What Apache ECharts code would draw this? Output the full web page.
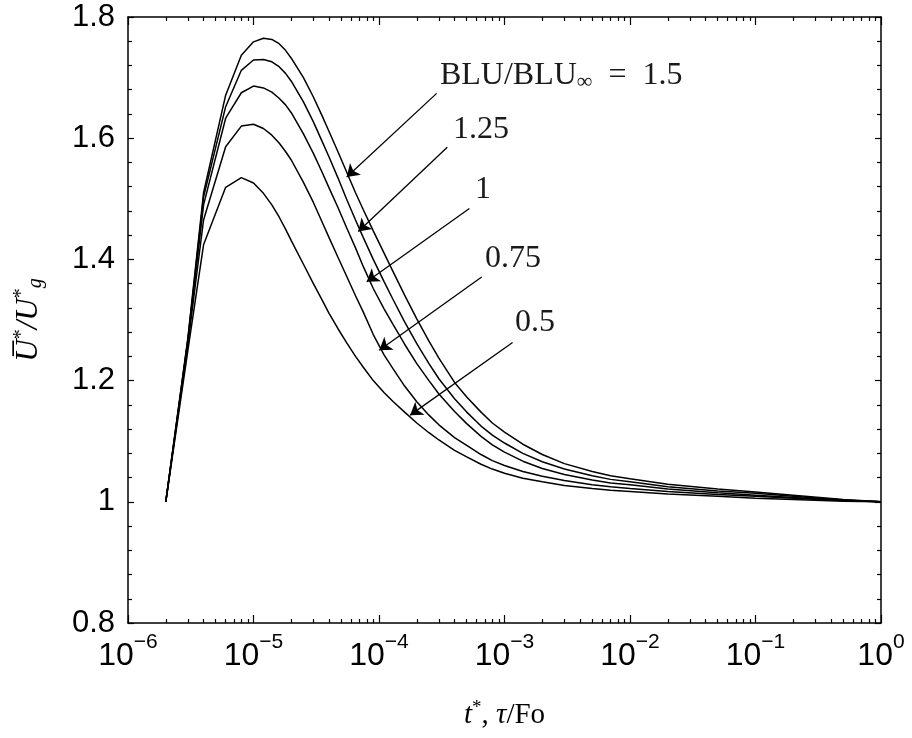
<!DOCTYPE html>
<html><head><meta charset="utf-8">
<script src="https://cdn.jsdelivr.net/npm/echarts@6/dist/echarts.min.js"></script>
<style>html,body{margin:0;padding:0;background:#fff}#c{width:912px;height:738px}</style>
</head><body><div id="c"></div>
<script>
// ---- data ----
const tValues = [2e-6, 3e-6, 4e-6, 6e-6, 8e-6, 1e-5, 1.2e-5, 1.4e-5, 1.6e-5, 1.8e-5, 2e-5, 2.5e-5, 3e-5, 3.5e-5, 4e-5, 4.7e-5, 5.5e-5, 6.5e-5, 7.5e-5, 9e-5, 1.1e-4, 1.3e-4, 1.6e-4, 2e-4, 2.5e-4, 3e-4, 4e-4, 5e-4, 6.5e-4, 8e-4, 1e-3, 1.4e-3, 2e-3, 3e-3, 5e-3, 7e-3, 1e-2, 2e-2, 5e-2, 1e-1, 2e-1, 5e-1, 1];
const ratio150 = [1.0, 1.27, 1.51, 1.671, 1.737, 1.759, 1.765, 1.763, 1.756, 1.745, 1.732, 1.700, 1.668, 1.638, 1.611, 1.578, 1.545, 1.510, 1.482, 1.447, 1.410, 1.379, 1.341, 1.302, 1.265, 1.237, 1.197, 1.173, 1.148, 1.130, 1.115, 1.095, 1.078, 1.063, 1.050, 1.043, 1.038, 1.029, 1.021, 1.016, 1.011, 1.004, 1.0];
const ratio125 = [1.0, 1.268, 1.503, 1.652, 1.712, 1.729, 1.730, 1.726, 1.718, 1.707, 1.694, 1.660, 1.627, 1.596, 1.569, 1.535, 1.500, 1.465, 1.436, 1.400, 1.363, 1.333, 1.297, 1.261, 1.228, 1.203, 1.170, 1.148, 1.125, 1.110, 1.097, 1.080, 1.066, 1.054, 1.043, 1.037, 1.033, 1.025, 1.018, 1.014, 1.009, 1.003, 1.0];
const ratio100 = [1.0, 1.265, 1.49, 1.633, 1.675, 1.686, 1.683, 1.676, 1.666, 1.655, 1.642, 1.607, 1.575, 1.545, 1.518, 1.486, 1.453, 1.419, 1.388, 1.352, 1.318, 1.292, 1.260, 1.228, 1.200, 1.178, 1.149, 1.129, 1.108, 1.094, 1.082, 1.067, 1.055, 1.045, 1.036, 1.031, 1.028, 1.021, 1.015, 1.011, 1.007, 1.002, 1.0];
const ratio075 = [1.0, 1.26, 1.465, 1.586, 1.620, 1.623, 1.616, 1.605, 1.592, 1.578, 1.564, 1.527, 1.494, 1.463, 1.436, 1.404, 1.373, 1.340, 1.313, 1.276, 1.242, 1.219, 1.191, 1.165, 1.143, 1.127, 1.106, 1.093, 1.078, 1.068, 1.060, 1.050, 1.042, 1.035, 1.028, 1.025, 1.022, 1.017, 1.012, 1.009, 1.006, 1.002, 1.0];
const ratio050 = [1.0, 1.25, 1.424, 1.519, 1.535, 1.526, 1.509, 1.490, 1.470, 1.450, 1.431, 1.392, 1.360, 1.334, 1.311, 1.286, 1.263, 1.240, 1.222, 1.200, 1.180, 1.165, 1.148, 1.130, 1.114, 1.102, 1.085, 1.074, 1.062, 1.054, 1.047, 1.039, 1.033, 1.027, 1.022, 1.019, 1.017, 1.013, 1.009, 1.006, 1.004, 1.001, 1.0];
const seriesNames = ['1.5', '1.25', '1', '0.75', '0.5'];
const seriesValues = [ratio150, ratio125, ratio100, ratio075, ratio050];

const xDecadeExponents = [-6, -5, -4, -3, -2, -1, 0];
const xMinorMultipliers = [2, 3, 4, 5, 6, 7, 8, 9];
const yTickMin = 0.8, yTickMax = 1.8, yTickStep = 0.2;

// annotation texts and arrows (data coordinates)
const labelTexts = ['{rm|BLU/BLU}{sub|∞}{rm|\u2002=\u20021.5}', '{rm|1.25}', '{rm|1}', '{rm|0.75}', '{rm|0.5}'];
const labelPos = [[3.06e-4, 1.704], [3.89e-4, 1.615], [5.82e-4, 1.515], [7.0e-4, 1.401], [1.21e-3, 1.295]];
const arrowStart = [[2.88e-4, 1.674], [3.50e-4, 1.585], [5.25e-4, 1.484], [6.58e-4, 1.371], [1.16e-3, 1.263]];
const arrowEnd = [[5.53e-5, 1.536], [6.84e-5, 1.446], [7.98e-5, 1.363], [1.005e-4, 1.250], [1.77e-4, 1.143]];

// ---- chart ----
const SANS = '"Liberation Sans", Arial, sans-serif';
const SERIF = '"Liberation Serif", "Times New Roman", serif';
const minorLogs = [];
xDecadeExponents.slice(0, -1).forEach(e => xMinorMultipliers.forEach(m => minorLogs.push(e + Math.log10(m))));

const chart = echarts.init(document.getElementById('c'), null, {renderer: 'canvas'});
const black = '#000';
const baseValueX = (pos) => ({
  type: 'value', min: -6, max: 0, interval: 1, position: pos, gridIndex: 0,
  axisLine: {show: false}, splitLine: {show: false}, axisLabel: {show: false},
  axisTick: {show: true, inside: true, length: 8, lineStyle: {color: black, width: 1.2}}
});
const minorX = (pos) => ({
  type: 'value', min: -6, max: 0, position: pos, gridIndex: 0,
  axisLine: {show: false}, splitLine: {show: false}, axisLabel: {show: false},
  axisTick: {show: true, inside: true, length: 4, customValues: minorLogs, lineStyle: {color: black, width: 1.2}}
});

const labelMajor = baseValueX('bottom');
labelMajor.axisLabel = {
  show: true, margin: 9, color: black,
  formatter: v => '{b|10}{s|' + (v === 0 ? '0' : '\u2212' + Math.abs(v)) + '}',
  rich: {
    b: {fontFamily: SANS, fontSize: 32, lineHeight: 40, verticalAlign: 'bottom', color: black},
    s: {fontFamily: SANS, fontSize: 21, lineHeight: 10, verticalAlign: 'top', color: black}
  }
};
labelMajor.name = '{it|t}{sup|*}{rm|, }{it|τ}{rm|/Fo}';
labelMajor.nameLocation = 'middle';
labelMajor.nameGap = 76;
labelMajor.nameTextStyle = {
  rich: {
    it: {fontFamily: SERIF, fontStyle: 'italic', fontSize: 29, lineHeight: 32, verticalAlign: 'middle', color: black},
    rm: {fontFamily: SERIF, fontSize: 29, lineHeight: 32, verticalAlign: 'middle', color: black},
    sup: {fontFamily: SERIF, fontSize: 19, lineHeight: 10, verticalAlign: 'top', color: black}
  }
};

const yBase = (pos, showLabel) => ({
  type: 'value', min: yTickMin, max: yTickMax, interval: yTickStep, position: pos, gridIndex: 0,
  axisLine: {show: true, onZero: false, lineStyle: {color: black, width: 1.5}},
  splitLine: {show: false}, minorSplitLine: {show: false},
  axisTick: {show: true, inside: true, length: 6, lineStyle: {color: black, width: 1.2}},
  minorTick: {show: true, splitNumber: 5, length: 4, lineStyle: {color: black, width: 1.2}},
  axisLabel: {show: showLabel, margin: 13, color: black, fontFamily: SANS, fontSize: 31}
});
const yLeft = yBase('left', true);
yLeft.name = '{it|U\u0305}{sup|*}{it|/U}{sup|*}{sub|g}';
yLeft.nameLocation = 'middle';
yLeft.nameRotate = 90;
yLeft.nameGap = 82;
yLeft.nameTextStyle = {
  rich: {
    it: {fontFamily: SERIF, fontStyle: 'italic', fontSize: 31, lineHeight: 34, verticalAlign: 'middle', color: black},
    sup: {fontFamily: SERIF, fontSize: 20, lineHeight: 10, verticalAlign: 'top', color: black},
    sub: {fontFamily: SERIF, fontStyle: 'italic', fontSize: 20, lineHeight: 10, verticalAlign: 'bottom', color: black}
  }
};
const yRight = yBase('right', false);

const lineSeries = seriesValues.map((vals, k) => ({
  name: seriesNames[k], type: 'line', xAxisIndex: 0, yAxisIndex: 0,
  symbol: 'none', silent: true, animation: false,
  lineStyle: {color: black, width: 1.5},
  data: tValues.map((t, i) => [t, vals[i]])
}));

const textSeries = {
  type: 'scatter', xAxisIndex: 0, yAxisIndex: 0, symbolSize: 0, silent: true, animation: false,
  itemStyle: {opacity: 1},
  data: labelPos.map((p, i) => ({
    value: p,
    label: {
      show: true, position: 'right', distance: 0, formatter: labelTexts[i], opacity: 1,
      rich: {
        rm: {fontFamily: SERIF, fontSize: 32, lineHeight: 36, verticalAlign: 'middle', color: '#1a1a1a'},
        sub: {fontFamily: SERIF, fontSize: 22, lineHeight: 10, verticalAlign: 'bottom', color: '#1a1a1a'}
      }
    }
  }))
};

const arrowSeries = {
  type: 'line', xAxisIndex: 0, yAxisIndex: 0, data: [], silent: true, animation: false,
  markLine: {
    silent: true, animation: false,
    symbol: ['none', 'arrow'], symbolSize: 12,
    label: {show: false},
    lineStyle: {color: black, width: 1.3, type: 'solid', opacity: 1},
    itemStyle: {color: black},
    data: arrowStart.map((s, i) => [{coord: s}, {coord: arrowEnd[i]}])
  }
};

chart.setOption({
  animation: false,
  backgroundColor: '#fff',
  grid: {left: 128, top: 17, right: 31, bottom: 115, containLabel: false, outerBoundsMode: 'none'},
  xAxis: [
    {type: 'log', logBase: 10, min: 1e-6, max: 1, position: 'bottom', gridIndex: 0,
     axisLine: {show: true, onZero: false, lineStyle: {color: black, width: 1.5}},
     axisTick: {show: false}, axisLabel: {show: false}, splitLine: {show: false}, minorSplitLine: {show: false}},
    labelMajor,
    minorX('bottom'),
    Object.assign(baseValueX('top'), {axisLine: {show: true, onZero: false, lineStyle: {color: black, width: 1.5}}}),
    minorX('top')
  ],
  yAxis: [yLeft, yRight],
  series: lineSeries.concat([textSeries, arrowSeries])
});
</script>
</body></html>
